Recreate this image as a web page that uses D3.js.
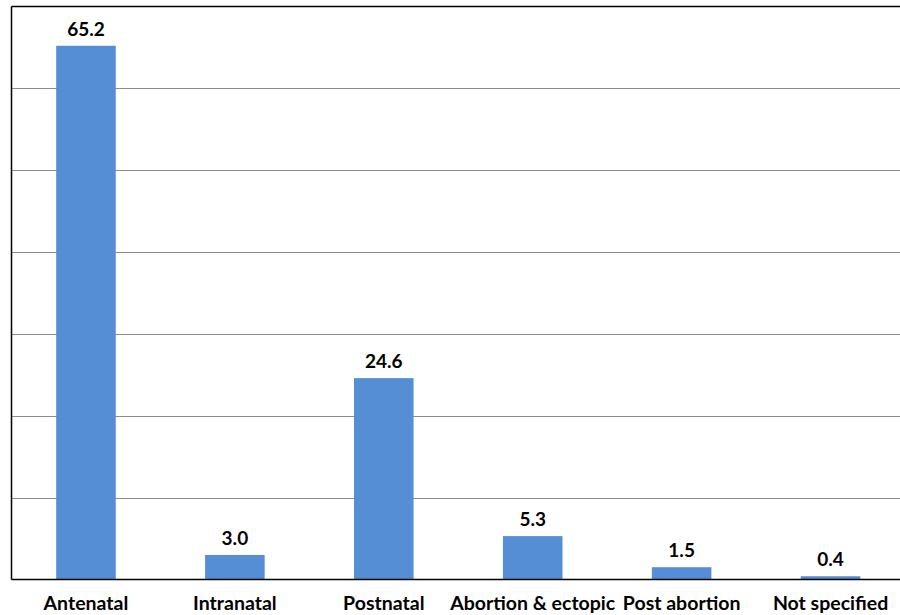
<!DOCTYPE html>
<html>
<head>
<meta charset="utf-8">
<script src="https://cdn.jsdelivr.net/npm/d3@7"></script>
<style>
  html, body { margin: 0; padding: 0; background: #fff; }
  svg { display: block; }
  text { font-family: Lato, "Open Sans", sans-serif; font-weight: bold; fill: #000; }
</style>
</head>
<body>
<svg id="chart" width="900" height="615"></svg>
<script>
// Share of maternal deaths by timing (%)
const categories = ["Antenatal", "Intranatal", "Postnatal", "Abortion & ectopic", "Post abortion", "Not specified"];
const values = [65.2, 3.0, 24.6, 5.3, 1.5, 0.4];
const gridTicks = [0, 10, 20, 30, 40, 50, 60, 70];

const svg = d3.select("#chart");
const plotLeft = 11.5, plotRight = 905, plotTop = 6.5, plotBottom = 579.5;

const x = d3.scaleBand().domain(categories).range([plotLeft, plotRight]).paddingInner(0.6).paddingOuter(0.3);
const y = d3.scaleLinear().domain([0, 70]).range([plotBottom, plotTop]);

// horizontal gridlines
svg.append("g").selectAll("line")
  .data(gridTicks.filter(t => t > 0 && t < 70))
  .join("line")
  .attr("x1", plotLeft).attr("x2", 900)
  .attr("y1", d => Math.round(y(d)) + 0.5).attr("y2", d => Math.round(y(d)) + 0.5)
  .attr("stroke", "#8c8c8c").attr("stroke-width", 1);

// top frame line
svg.append("line")
  .attr("x1", plotLeft).attr("x2", 900)
  .attr("y1", y(70)).attr("y2", y(70))
  .attr("stroke", "#000").attr("stroke-width", 1.5);

// bars
svg.append("g").selectAll("rect")
  .data(values)
  .join("rect")
  .attr("x", (d, i) => x(categories[i]))
  .attr("width", x.bandwidth())
  .attr("y", d => y(d))
  .attr("height", d => y(0) - y(d))
  .attr("fill", "#558ed5");

// value labels
svg.append("g").selectAll("text")
  .data(values)
  .join("text")
  .attr("x", (d, i) => x(categories[i]) + x.bandwidth() / 2)
  .attr("y", d => y(d) - 10)
  .attr("text-anchor", "middle")
  .attr("font-size", 19)
  .attr("font-weight", 900)
  .text(d => d.toFixed(1));

// axis lines
svg.append("line")
  .attr("x1", plotLeft).attr("x2", plotLeft).attr("y1", plotTop).attr("y2", plotBottom)
  .attr("stroke", "#000").attr("stroke-width", 1.5);
svg.append("line")
  .attr("x1", plotLeft).attr("x2", 900).attr("y1", plotBottom).attr("y2", plotBottom)
  .attr("stroke", "#000").attr("stroke-width", 1.5);

// category labels
const xAxis = d3.axisBottom(x).tickSize(0).tickPadding(0);
const gx = svg.append("g").attr("transform", `translate(0,${plotBottom})`).call(xAxis);
gx.select(".domain").remove();
gx.selectAll("text")
  .attr("y", 30)
  .attr("dy", 0)
  .attr("font-size", 19.5)
  .attr("font-family", "Lato, 'Open Sans', sans-serif")
  .attr("font-weight", 900)
  .attr("fill", "#000");
</script>
</body>
</html>
